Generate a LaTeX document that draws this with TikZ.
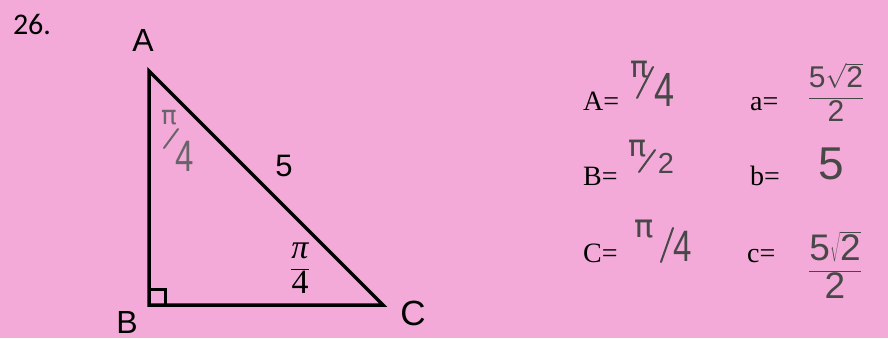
\documentclass[tikz,border=0pt]{standalone}
\usepackage{fontspec}
\setmainfont{Liberation Serif}
\newfontfamily\arialf{Liberation Sans}
\newfontfamily\calif{Carlito}
\newfontfamily\handf{DejaVu Sans}
\usepackage{graphicx}
\definecolor{paper}{RGB}{244,170,216}
\definecolor{pencil}{RGB}{72,72,72}
\definecolor{pencillight}{RGB}{105,100,105}
\newcommand{\hwroot}{\ensuremath{\displaystyle\frac{\mbox{\arialf 5}\sqrt{\mbox{\arialf 2}}}{\mbox{\arialf 2}}}}
\begin{document}
\begin{tikzpicture}[x=1pt,y=-1pt,
  vertexlbl/.style={font=\arialf\fontsize{32}{32}\selectfont, inner sep=0},
  eqlbl/.style={font=\fontsize{28}{28}\selectfont, anchor=base west, inner sep=0},
  hand/.style={text=pencil, inner sep=0, font=\arialf\fontsize{#1}{#1}\selectfont},
  handpi/.style={text=pencil, inner sep=0, font=\handf\fontsize{#1}{#1}\selectfont},
  slash/.style={draw=pencil, line width=2pt, line cap=round},
  side/.style={line width=3.5pt, line join=miter},
  rightmark/.style={line width=3pt}]
\fill[paper] (0,0) rectangle (888,338);
\useasboundingbox (0,0) rectangle (888,338);
% triangle
\coordinate (A) at (149,71);
\coordinate (B) at (149,305);
\coordinate (C) at (383,305);
\draw[side] (A) -- (B) -- (C) -- cycle;
\coordinate (sq1) at (149,289);
\coordinate (sq2) at (165,305);
\draw[rightmark] (sq1) -| (sq2);
% labels
\node[font=\calif\fontsize{30}{30}\selectfont, inner sep=0] (num) at (32,24) {26.};
\node[vertexlbl] (lA) at (143,40) {A};
\node[vertexlbl] (lB) at (127,322) {B};
\node[vertexlbl, font=\arialf\fontsize{35}{35}\selectfont] (lC) at (413,313) {C};
\node[vertexlbl, font=\arialf\fontsize{31}{31}\selectfont] (l5) at (284,166) {5};
\node[font=\fontsize{34}{34}\selectfont, inner sep=0] (fC) at (300,268) {$\displaystyle\frac{\mbox{\itshape π}}{\mbox{4}}$};
% handwritten angle at A
\node[handpi=26, text=pencillight] (hAn) at (169,118) {π};
\node[hand=44, text=pencillight] (hAd) at (185,156) {\scalebox{0.75}[1]{4}};
\coordinate (hAs1) at (164,148);
\coordinate (hAs2) at (178,129);
\draw[slash, draw=pencillight] (hAs1) -- (hAs2);
% answers
\node[eqlbl] (eA) at (583,110) {A=};
\node[eqlbl] (eB) at (583,185) {B=};
\node[eqlbl] (eC) at (583,262) {C=};
\node[eqlbl] (ea) at (750,110) {a=};
\node[eqlbl] (eb) at (750,185) {b=};
\node[eqlbl] (ec) at (747,262) {c=};
% A = pi/4
\node[handpi=30] (vAn) at (640,70) {π};
\node[hand=48] (vAd) at (665,90) {\scalebox{0.75}[1]{4}};
\coordinate (vAs1) at (637,98);
\coordinate (vAs2) at (653,67);
\draw[slash] (vAs1) -- (vAs2);
% B = pi/2
\node[handpi=30] (vBn) at (638,149) {π};
\node[hand=29] (vBd) at (666,163) {2};
\coordinate (vBs1) at (639,172);
\coordinate (vBs2) at (655,150);
\draw[slash] (vBs1) -- (vBs2);
% C = pi/4
\node[handpi=32] (vCn) at (644,229) {π};
\node[hand=44] (vCd) at (683,246) {\scalebox{0.75}[1]{4}};
\coordinate (vCs1) at (661,262);
\coordinate (vCs2) at (673,228);
\draw[slash] (vCs1) -- (vCs2);
% sides
\node[hand=30] (va) at (836,92) {\hwroot};
\node[hand=46] (vb) at (831,164) {5};
\node[hand=37] (vc) at (835,265) {\hwroot};
\end{tikzpicture}
\end{document}
